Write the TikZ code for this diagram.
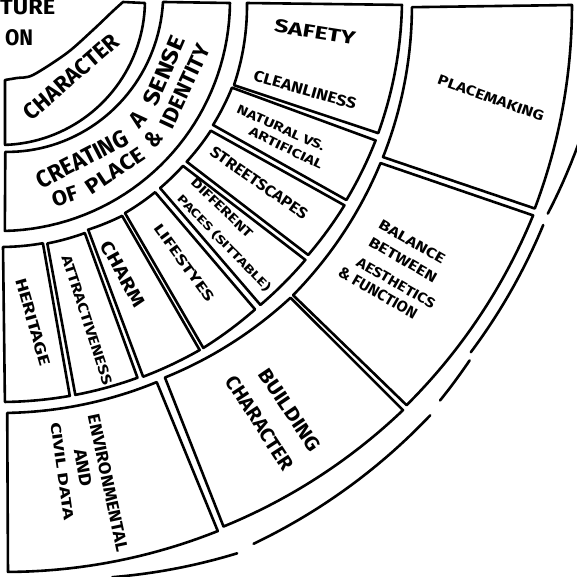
\documentclass[tikz,border=0pt]{standalone}
\usepackage{fontspec}
\usepackage{graphicx}
\setmainfont{Fira Sans}
\newcommand\lbl[3]{\resizebox{#1pt}{#2pt}{#3}}
% #1 inner start angle, #2 inner end angle, #3 inner start r, #4 inner end r,
% #5 outer start angle, #6 outer end angle, #7 outer start r, #8 outer end r
\newcommand\wedgebox[8]{\draw[sk] plot[domain=#5:#6,samples=40,variable=\t] (\t:{#7+(#8-#7)*(\t-#5)/(#6-#5)}) -- plot[domain=#2:#1,samples=40,variable=\t] (\t:{#3+(#4-#3)*(\t-#1)/(#2-#1)}) -- cycle;}
\newcommand\sarc[4]{\draw[sk] plot[domain=#1:#2,samples=40,variable=\t] (\t:{#3+(#4-#3)*(\t-#1)/(#2-#1)});}
\begin{document}
\begin{tikzpicture}[x=1pt,y=-1pt,
  sk/.style={line width=2.6pt,line join=round,line cap=round},
  txt/.style={inner sep=0pt,font=\bfseries}]
\useasboundingbox (0,0) rectangle (576,577);
\fill[white] (0,0) rectangle (576,577);

% centre text (cut off)
\node[txt,anchor=base west] (ture) at (0,15) {\lbl{55}{15}{TURE}};
\node[txt,anchor=base west] (on) at (5,46) {\lbl{28}{16}{ON}};

% innermost ring: CHARACTER
\draw[sk] (5,80) -- (5,143) -- plot[domain=88:1.2,samples=40,variable=\t] (\t:145)
  -- plot[smooth] coordinates {(123,2) (113,11) (93,30) (67,53) (33,75) (17,78) (5,80)} -- cycle;
\node[txt,rotate=41] (character) at (71,77) {\lbl{118}{16}{CHARACTER}};

% second ring: creating a sense of place
\wedgebox{0.7}{88}{163}{152}{0.75}{88.8}{230}{231}
\node[txt,rotate=27.3] (creating) at (62.7:179) {\lbl{100}{17}{CREATING}};
\node[txt,rotate=49.1] (a) at (40.9:182) {\lbl{13}{16}{A}};
\node[txt,rotate=66.7] (sense) at (23.3:179) {\lbl{74}{16}{SENSE}};
\node[txt,rotate=18.2] (of) at (71.8:207) {\lbl{26}{15}{OF}};
\node[txt,rotate=34] (place) at (56:206) {\lbl{66}{15}{PLACE}};
\node[txt,rotate=48] (amp) at (42:207) {\lbl{15}{16}{\&}};
\node[txt,rotate=65] (identity) at (25:204) {\lbl{90}{15}{IDENTITY}};

% middle ring
\wedgebox{0.7}{20}{247}{249}{0.7}{19.4}{402}{401}
\wedgebox{20.7}{30.4}{248}{247}{20.5}{30}{401}{400}
\wedgebox{31.8}{40.9}{248}{247}{30.8}{39.6}{401}{400}
\wedgebox{42.2}{49.6}{247}{247}{40.4}{49.5}{401}{401}
\wedgebox{51.1}{59.6}{247}{247}{50.5}{59.7}{401}{403}
\wedgebox{60.5}{69}{248}{246}{60.3}{69.2}{403}{403}
\wedgebox{70}{79}{248}{248}{70}{79.2}{402}{402}
\wedgebox{80}{89.3}{247}{247}{80}{89.3}{402}{402}

\node[txt,rotate=-9] (safety) at (315,32) {\lbl{82}{13}{SAFETY}};
\node[txt,rotate=-16] (clean) at (305,90) {\lbl{106}{11}{CLEANLINESS}};
\node[txt,rotate=-24] (natural) at (281,128) {\lbl{95}{9}{NATURAL VS.}};
\node[txt,rotate=-26] (artificial) at (286,148) {\lbl{80}{9}{ARTIFICIAL}};
\node[txt,rotate=-35] (street) at (259,183) {\lbl{115}{11}{STREETSCAPES}};
\node[txt,rotate=-44] (different) at (222,208) {\lbl{80}{9}{DIFFERENT}};
\node[txt,rotate=-46] (paces) at (224,243) {\lbl{128}{10}{PACES (SITTABLE)}};
\node[txt,rotate=-54] (lifestyes) at (184,263) {\lbl{92}{10}{LIFESTYES}};
\node[txt,rotate=-61] (charm) at (123,274) {\lbl{72}{13}{CHARM}};
\node[txt,rotate=-72] (attract) at (87,320) {\lbl{135}{10}{ATTRACTIVENESS}};
\node[txt,rotate=-74] (heritage) at (33,322) {\lbl{90}{11}{HERITAGE}};

% outer ring
\wedgebox{1}{22.3}{412}{414}{0.5}{21.3}{572}{574}
\wedgebox{23.2}{45.2}{414}{416}{22.0}{44.9}{575}{574}
\wedgebox{45.7}{66.4}{416}{412}{45.5}{67}{575}{572}
\wedgebox{67.7}{89}{413}{413}{67.7}{89.2}{574}{572}

\node[txt,rotate=-20] (placemaking) at (491,98) {\lbl{112}{10}{PLACEMAKING}};
\node[txt,rotate=-30] (balance) at (412,242) {\lbl{74}{10}{BALANCE}};
\node[txt,rotate=-30] (between) at (403,260) {\lbl{76}{10}{BETWEEN}};
\node[txt,rotate=-30] (aesthetics) at (396,283) {\lbl{88}{10}{AESTHETICS}};
\node[txt,rotate=-30] (function) at (378,293) {\lbl{88}{11}{\& FUNCTION}};
\node[txt,rotate=-56] (building) at (290,410) {\lbl{95}{14}{BUILDING}};
\node[txt,rotate=-57] (bchar) at (260,423) {\lbl{108}{14}{CHARACTER}};
\node[txt,rotate=-78] (environ) at (108,483) {\lbl{140}{12}{ENVIRONMENTAL}};
\node[txt,rotate=-80] (and) at (83,468) {\lbl{38}{12}{AND}};
\node[txt,rotate=-82] (civil) at (62,471) {\lbl{98}{10}{CIVIL DATA}};

% outermost broken arc
\sarc{14}{21.3}{596}{588}
\sarc{22.5}{36.8}{588}{588}
\sarc{37.5}{42.3}{592}{595}
\sarc{44}{65}{598}{600}
\sarc{66.8}{79}{602}{588}
\end{tikzpicture}
\end{document}
